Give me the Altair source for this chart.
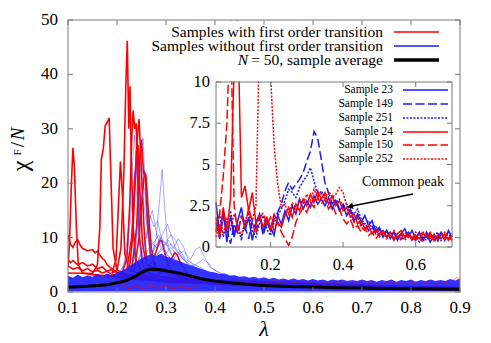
import altair as alt
import pandas as pd

SERIF = "'Liberation Serif', 'Times New Roman', Times, 'DejaVu Serif', serif"
RED = "#ff0000"
BLUE = "#1a1aff"
FAINT = "#3c3cff"
FRAME = "#7a7a7a"

W, H = 392, 272
IN_L, IN_R, IN_T, IN_B = 148, 384, 62, 227

X_MAIN = [0.1, 0.9]
Y_MAIN = [0, 50]
X_IN = [0.05, 0.7]
Y_IN = [0, 10]

MAIN_XTICKS = [0.1, 0.2, 0.3, 0.4, 0.5, 0.6, 0.7, 0.8, 0.9]
MAIN_XLABELS = ["0.1", "0.2", "0.3", "0.4", "0.5", "0.6", "0.7", "0.8", "0.9"]
MAIN_YTICKS = [0, 10, 20, 30, 40, 50]
MAIN_YLABELS = ["0", "10", "20", "30", "40", "50"]
IN_XTICKS = [0.2, 0.4, 0.6]
IN_XLABELS = ["0.2", "0.4", "0.6"]
IN_YTICKS = [0, 2.5, 5, 7.5, 10]
IN_YLABELS = ["0", "2.5", "5", "7.5", "10"]

# ---------------- main panel data ----------------
AVERAGE = [(0.10, 0.85), (0.12, 0.95), (0.14, 1.05), (0.16, 1.2), (0.18, 1.35), (0.20, 1.7),
           (0.22, 2.1), (0.24, 3.0), (0.25, 3.6), (0.26, 4.0), (0.27, 4.2), (0.28, 4.2),
           (0.29, 4.1), (0.30, 3.9), (0.32, 3.6), (0.34, 3.2), (0.36, 2.7), (0.38, 2.3),
           (0.40, 2.0), (0.43, 1.7), (0.46, 1.45), (0.50, 1.2), (0.55, 1.0), (0.60, 0.9),
           (0.65, 0.8), (0.70, 0.72), (0.75, 0.65), (0.80, 0.6), (0.85, 0.55), (0.90, 0.5)]

BAND_LAMBDA = [round(0.10 + 0.01 * i, 2) for i in range(81)]
BAND_TOP = [3.0, 2.6, 3.2, 2.7, 3.1, 2.8, 3.3, 2.9, 3.4, 3.1,
            3.6, 3.9, 4.4, 5.0, 5.6, 6.2, 6.6, 7.0, 6.6, 7.1,
            6.5, 6.3, 5.9, 5.6, 5.2, 4.9, 4.6, 4.3, 4.0, 3.7,
            3.6, 3.3, 3.4, 3.0, 3.1, 2.8, 2.9, 2.6, 2.8, 2.5,
            2.7, 2.4, 2.6, 2.3, 2.5, 2.2, 2.5, 2.2, 2.4, 2.1,
            2.4, 2.1, 2.3, 2.0, 2.3, 2.1, 2.3, 2.0, 2.2, 2.0,
            2.3, 2.0, 2.2, 1.9, 2.2, 2.0, 2.3, 1.9, 2.2, 2.0,
            2.3, 1.9, 2.2, 2.0, 2.3, 2.0, 2.2, 2.0, 2.4, 2.1,
            2.5]
BAND_BOTTOM = 0.15

RED_A = [(0.100, 4.5), (0.103, 9), (0.107, 20), (0.110, 26.5), (0.113, 23), (0.117, 12), (0.121, 5),
         (0.13, 3.5), (0.15, 3.2), (0.18, 3), (0.22, 2.5), (0.3, 2), (0.5, 1.2), (0.9, 0.8)]
RED_B = [(0.100, 10.5), (0.105, 8.8), (0.110, 8.2), (0.115, 9.2), (0.120, 9.6), (0.125, 8.6), (0.130, 8.0),
         (0.140, 7.6), (0.150, 7.8), (0.155, 7.2), (0.160, 7.5), (0.165, 6.8), (0.170, 6.2), (0.175, 5.8),
         (0.180, 5.0), (0.190, 4.2), (0.200, 3.6), (0.220, 3.0), (0.3, 2.2), (0.5, 1.2), (0.9, 0.8)]
RED_C = [(0.10, 6.0), (0.105, 5.4), (0.11, 5.8), (0.12, 5.0), (0.13, 5.4), (0.14, 4.8), (0.15, 5.1),
         (0.16, 4.3), (0.17, 4.6), (0.18, 3.8), (0.19, 4.2), (0.20, 3.5), (0.22, 3.0), (0.3, 2.0),
         (0.5, 1.0), (0.9, 0.7)]
RED_D = [(0.10, 4.8), (0.11, 4.2), (0.12, 4.5), (0.13, 3.9), (0.14, 4.3), (0.15, 3.7), (0.16, 4.0),
         (0.17, 3.5), (0.18, 3.8), (0.19, 3.2), (0.20, 3.0), (0.3, 1.8), (0.9, 0.6)]
RED_E = [(0.10, 3.5), (0.15, 3.4), (0.160, 5), (0.165, 12), (0.168, 24.4), (0.172, 26.3), (0.176, 30.6),
         (0.180, 31.2), (0.184, 32), (0.188, 20), (0.192, 8), (0.20, 4), (0.22, 3.2), (0.3, 2.2), (0.9, 0.7)]
RED_F = [(0.19, 3.5), (0.200, 4), (0.208, 8), (0.214, 22), (0.218, 38), (0.221, 46.2), (0.224, 30),
         (0.2265, 37.8), (0.229, 25), (0.233, 12), (0.238, 6), (0.25, 4), (0.3, 2.5), (0.9, 0.7)]
RED_G = [(0.21, 3.5), (0.22, 6), (0.226, 16), (0.230, 28), (0.233, 33.4), (0.236, 30), (0.239, 31),
         (0.242, 22), (0.246, 10), (0.252, 5), (0.27, 3), (0.4, 2)]
RED_H = [(0.225, 4), (0.232, 10), (0.238, 22), (0.242, 29), (0.245, 31.8), (0.248, 26), (0.251, 20),
         (0.255, 12), (0.26, 6), (0.27, 4), (0.4, 2)]
RED_I = [(0.23, 4), (0.24, 12), (0.246, 24), (0.250, 28), (0.254, 22), (0.258, 21), (0.262, 14),
         (0.268, 7), (0.28, 4), (0.4, 2)]
RED_J = [(0.235, 4), (0.245, 10), (0.252, 18), (0.256, 22), (0.259, 21.5), (0.263, 16), (0.27, 8),
         (0.28, 4), (0.4, 2)]
RED_K = [(0.19, 3.5), (0.198, 6), (0.203, 16), (0.207, 24), (0.211, 18), (0.216, 7), (0.225, 4), (0.3, 2)]
RED_L = [(0.22, 4), (0.23, 10), (0.236, 20), (0.240, 26), (0.243, 27), (0.247, 18), (0.252, 9),
         (0.26, 5), (0.35, 2)]
RED_M = [(0.25, 3.0), (0.26, 3.5), (0.27, 5), (0.28, 7.5), (0.287, 9.5), (0.292, 9.3), (0.298, 7),
         (0.305, 5), (0.315, 3.5), (0.35, 2.5)]
RED_N = [(0.28, 3.0), (0.29, 3.5), (0.30, 4.5), (0.31, 6), (0.318, 7.2), (0.323, 6.8), (0.33, 5.2),
         (0.335, 4.5), (0.345, 3.2), (0.36, 2.5), (0.4, 2)]
RED_LOW = [(0.21, 1.3), (0.225, 0.6), (0.24, 1.2), (0.255, 0.5), (0.27, 1.4), (0.285, 0.7), (0.30, 1.3),
           (0.315, 0.5), (0.33, 1.2), (0.345, 0.6), (0.36, 1.0)]
RED_TAIL = [(0.45, 1.5), (0.47, 2.0), (0.49, 1.4), (0.52, 2.1), (0.55, 1.5), (0.58, 2.0), (0.61, 1.4),
            (0.64, 1.9), (0.67, 1.5), (0.70, 2.1), (0.73, 1.4), (0.76, 1.9), (0.79, 1.5), (0.82, 2.0),
            (0.85, 1.4), (0.88, 1.9), (0.895, 2.7), (0.90, 1.6)]

BLUE_A = [(0.20, 3), (0.215, 5), (0.225, 13), (0.232, 24), (0.236, 28.8), (0.240, 22), (0.245, 11),
          (0.252, 6), (0.27, 5), (0.3, 4), (0.35, 3), (0.45, 2)]
BLUE_B = [(0.22, 3.5), (0.235, 6), (0.243, 14), (0.249, 24), (0.253, 28.3), (0.257, 21), (0.263, 10),
          (0.272, 6), (0.29, 5), (0.33, 3.5), (0.4, 2.5)]
BLUE_C = [(0.25, 4), (0.27, 6), (0.28, 10), (0.287, 17), (0.292, 22.5), (0.297, 16), (0.303, 9),
          (0.315, 6), (0.33, 4.5), (0.38, 3)]
BLUE_D = [(0.22, 4), (0.235, 7), (0.245, 15), (0.25, 20), (0.256, 19), (0.262, 12), (0.27, 8),
          (0.28, 6), (0.3, 5), (0.35, 3.5)]
BLUE_E = [(0.24, 5), (0.255, 8), (0.265, 13), (0.272, 15), (0.28, 11), (0.29, 8), (0.3, 9),
          (0.31, 7), (0.33, 5), (0.36, 3.5)]
BLUE_F = [(0.25, 5), (0.27, 7), (0.285, 9), (0.295, 11), (0.303, 12.5), (0.312, 10), (0.32, 8),
          (0.335, 6), (0.35, 4.5), (0.38, 3.5)]
BLUE_G = [(0.27, 6), (0.29, 7.5), (0.305, 9.5), (0.315, 8), (0.325, 9.8), (0.335, 8.5), (0.345, 6),
          (0.36, 4.5), (0.4, 3)]
BLUE_H = [(0.30, 5), (0.32, 6.5), (0.335, 7.5), (0.35, 6), (0.36, 7.8), (0.369, 8.3), (0.378, 6.5),
          (0.39, 4.5), (0.42, 3)]
BLUE_I = [(0.33, 4.5), (0.36, 5), (0.375, 6), (0.385, 5.5), (0.395, 4.3), (0.41, 3.5), (0.44, 2.8)]
BLUE_J = [(0.23, 5), (0.24, 9), (0.247, 16), (0.252, 18), (0.258, 14), (0.265, 10), (0.275, 9),
          (0.285, 10.5), (0.295, 8), (0.31, 6)]
BLUE_K = [(0.26, 5), (0.275, 8), (0.29, 10), (0.298, 9), (0.31, 10.5), (0.32, 9.5), (0.33, 7),
          (0.345, 5), (0.37, 3.5)]
BLUE_L = [(0.21, 4), (0.222, 8), (0.23, 16), (0.236, 22), (0.241, 17), (0.246, 9), (0.255, 6), (0.27, 5)]
BLUE_M = [(0.24, 5), (0.26, 10), (0.268, 14), (0.275, 12), (0.283, 13), (0.29, 10), (0.3, 7), (0.32, 5)]
BLUE_N = [(0.25, 4), (0.262, 7.5), (0.272, 9), (0.282, 8), (0.292, 9.5), (0.302, 8.5), (0.312, 8.8),
          (0.322, 7.5), (0.335, 6), (0.35, 5), (0.37, 4)]
BLUE_O = [(0.27, 5), (0.28, 6.5), (0.29, 8), (0.30, 7), (0.31, 8.2), (0.32, 7), (0.33, 7.5),
          (0.34, 6), (0.355, 5.2), (0.37, 4.5), (0.39, 3.5)]

# ---------------- inset data ----------------
INSET_LAMBDA = [round(0.05 + 0.01 * i, 2) for i in range(66)]
S23 = [2.7, 0.8, 2.2, 0.3, 1.9, 0.6, 1.6, 2.4, 1.0, 1.8,
       0.4, 1.5, 2.0, 0.9, 1.7, 1.2, 0.7, 1.9, 1.4, 2.2,
       1.6, 2.5, 2.0, 2.9, 2.3, 2.8, 2.4, 3.1, 2.6, 2.9,
       2.5, 3.0, 2.3, 2.8, 2.2, 2.5, 1.9, 2.3, 1.6, 2.0,
       1.5, 1.9, 1.3, 1.6, 0.9, 1.2, 0.6, 1.0, 0.5, 0.9,
       0.4, 0.8, 1.1, 0.6, 1.0, 0.5, 0.9, 0.4, 0.8, 0.3,
       0.7, 0.5, 0.9, 0.4, 1.0, 0.6]
S149 = [1.5, 0.5, 1.8, 1.0, 0.2, 1.4, 0.8, 1.9, 1.2, 0.5,
        1.6, 1.1, 1.8, 0.7, 1.5, 1.0, 1.7, 2.1, 2.6, 3.4,
        3.9, 3.5, 3.8, 4.1, 4.5, 5.2, 5.8, 7.0, 6.6, 5.3,
        3.9, 3.3, 2.6, 2.9, 2.3, 2.6, 2.0, 2.2, 1.6, 1.8,
        1.3, 1.5, 1.0, 1.3, 0.8, 1.1, 0.7, 1.0, 0.6, 0.9,
        0.5, 0.8, 0.5, 0.9, 0.6, 0.4, 0.8, 0.5, 0.9, 0.4,
        0.7, 0.3, 0.8, 0.5, 0.9, 0.4]
S251 = [0.9, 2.0, 0.6, 1.5, 2.2, 0.9, 1.3, 0.4, 1.6, 2.1,
        1.0, 0.6, 1.4, 1.9, 1.1, 0.7, 1.5, 1.9, 2.3, 2.8,
        3.5, 3.3, 3.0, 3.6, 4.0, 4.3, 4.8, 4.0, 3.1, 3.4,
        3.0, 2.6, 3.1, 2.7, 2.9, 2.4, 2.6, 2.2, 2.0, 2.3,
        1.7, 1.4, 1.6, 1.1, 1.3, 0.8, 1.0, 0.6, 0.9, 0.5,
        0.8, 0.4, 0.7, 0.9, 0.5, 0.7, 0.3, 0.6, 0.4, 0.8,
        0.5, 0.9, 0.4, 0.7, 0.5, 0.8]
S24 = [1.8, 0.6, 2.4, 1.0, 2.9, 11.0, 14.0, 3.0, 3.7, 2.2,
       3.3, 1.4, 1.9, 1.2, 1.8, 1.1, 2.0, 1.5, 1.2, 1.9,
       2.4, 1.8, 2.6, 2.2, 2.9, 2.5, 3.2, 2.7, 3.4, 2.9,
       3.3, 2.6, 3.1, 2.5, 2.8, 2.2, 2.4, 1.8, 2.0, 1.4,
       1.6, 1.1, 1.3, 0.8, 1.1, 0.7, 1.0, 0.6, 0.9, 0.5,
       0.8, 1.0, 0.6, 0.8, 0.4, 0.7, 0.5, 0.8, 0.6, 0.9,
       0.4, 0.7, 0.5, 0.8, 0.4, 0.7]
S150 = [1.0, 2.0, 4.3, 7.5, 14.0, 2.5, 0.8, 1.9, 1.2, 2.4,
        1.5, 0.8, 1.7, 2.1, 1.3, 1.8, 1.0, 1.5, 0.9, 0.5,
        0.1, 0.6, 1.5, 2.0, 2.4, 2.1, 2.7, 2.4, 3.0, 2.6,
        2.9, 2.3, 2.6, 2.0, 2.3, 1.7, 1.4, 1.7, 1.1, 1.3,
        0.9, 1.2, 0.7, 0.9, 0.5, 0.8, 1.0, 0.6, 0.8, 0.4,
        0.7, 0.5, 0.9, 0.6, 0.8, 0.4, 0.7, 0.9, 0.5, 0.7,
        0.3, 0.6, 0.9, 0.5, 0.7, 0.4]
S252 = [0.6, 1.4, 0.8, 1.7, 1.1, 2.0, 1.3, 0.7, 1.5, 2.1,
        1.6, 2.5, 13.0, 16.0, 15.0, 10.5, 6.2, 3.8, 2.4, 2.6,
        2.0, 2.7, 2.3, 2.9, 2.6, 3.2, 2.8, 3.5, 3.0, 3.3,
        2.9, 3.4, 3.0, 3.2, 3.6, 3.3, 2.5, 2.0, 1.5, 1.8,
        1.2, 1.0, 1.3, 0.8, 1.0, 0.6, 0.9, 0.5, 0.7, 1.0,
        0.6, 0.8, 0.4, 0.7, 0.5, 0.9, 0.6, 0.3, 0.7, 0.5,
        0.8, 0.4, 0.6, 0.9, 0.5, 0.7]

MAIN_LEGEND = ["Samples with first order transition", "Samples without first order transition",
               "= 50, sample average"]
INSET_LEGEND = ["Sample 23", "Sample 149", "Sample 251", "Sample 24", "Sample 150", "Sample 252"]
ANNOTATION = "Common peak"

# ---------------- helpers ----------------
XM = alt.Scale(domain=X_MAIN, range=[0, W], nice=False, zero=False)
YM = alt.Scale(domain=Y_MAIN, range=[H, 0], nice=False, zero=False)
XI = alt.Scale(domain=X_IN, range=[IN_L, IN_R], nice=False, zero=False)
YI = alt.Scale(domain=Y_IN, range=[IN_B, IN_T], nice=False, zero=False)


def one():
    return pd.DataFrame({"k": [0]})


def pairs_df(named):
    rows = []
    for name, pts in named.items():
        for lam, val in pts:
            rows.append({"sid": name, "lam": lam, "val": val})
    return pd.DataFrame(rows)


def line_layer(df, sx, sy, **mk):
    return alt.Chart(df).mark_line(clip=True, **mk).encode(
        x=alt.X("lam:Q", scale=sx, axis=None),
        y=alt.Y("val:Q", scale=sy, axis=None),
        detail="sid:N",
    )


def text_at(txt, x, y, size, align="center", style="normal", angle=0, color="black"):
    return alt.Chart(one()).mark_text(
        text=txt, font=SERIF, fontSize=size, fontStyle=style, align=align,
        baseline="middle", angle=angle, color=color,
    ).encode(x=alt.value(x), y=alt.value(y))


def seg(x1, x2, y1, y2, color, width, dash=None):
    kw = dict(color=color, strokeWidth=width)
    if dash:
        kw["strokeDash"] = dash
    return alt.Chart(one()).mark_rule(**kw).encode(
        x=alt.value(x1), x2=alt.value(x2), y=alt.value(y1), y2=alt.value(y2))


layers = []

# red samples (drawn first)
red_df = pairs_df({"a": RED_A, "b": RED_B, "c": RED_C, "d": RED_D, "e": RED_E, "f": RED_F,
                   "g": RED_G, "h": RED_H, "i": RED_I, "j": RED_J, "k": RED_K, "l": RED_L,
                   "m": RED_M, "n": RED_N})
layers.append(line_layer(red_df, XM, YM, color=RED, strokeWidth=1.6))

# dense blue band
band_df = pd.DataFrame({"lam": BAND_LAMBDA, "up": BAND_TOP})
layers.append(alt.Chart(band_df).mark_area(color=BLUE, opacity=0.9, clip=True).encode(
    x=alt.X("lam:Q", scale=XM, axis=None),
    y=alt.Y("up:Q", scale=YM, axis=None),
    y2=alt.datum(BAND_BOTTOM),
))

# faint blue samples
blue_df = pairs_df({"a": BLUE_A, "b": BLUE_B, "c": BLUE_C, "d": BLUE_D, "e": BLUE_E, "f": BLUE_F,
                    "g": BLUE_G, "h": BLUE_H, "i": BLUE_I, "j": BLUE_J, "k": BLUE_K, "l": BLUE_L,
                    "m": BLUE_M, "n": BLUE_N, "o": BLUE_O})
layers.append(line_layer(blue_df, XM, YM, color=FAINT, strokeWidth=0.9, opacity=0.5))

# low red specks over band
layers.append(line_layer(pairs_df({"low": RED_LOW}), XM, YM, color=RED, strokeWidth=1.0, opacity=0.8))
layers.append(line_layer(pairs_df({"tail": RED_TAIL}), XM, YM, color=RED, strokeWidth=0.8, opacity=0.5))

# average
layers.append(line_layer(pairs_df({"avg": AVERAGE}), XM, YM, color="black", strokeWidth=3))

# ---------------- inset ----------------
layers.append(alt.Chart(one()).mark_rect(color="white").encode(
    x=alt.value(IN_L), x2=alt.value(IN_R), y=alt.value(IN_T), y2=alt.value(IN_B)))

DASH_SOLID = [1, 0]
DASH_DASHED = [9, 3.5]
DASH_DOTTED = [2, 1.5]
inset_series = [
    ("Sample 23", S23, BLUE, DASH_SOLID),
    ("Sample 149", S149, BLUE, DASH_DASHED),
    ("Sample 251", S251, BLUE, DASH_DOTTED),
    ("Sample 24", S24, RED, DASH_SOLID),
    ("Sample 150", S150, RED, DASH_DASHED),
    ("Sample 252", S252, RED, DASH_DOTTED),
]
for name, vals, col, dash in inset_series:
    df = pd.DataFrame({"sid": name, "lam": INSET_LAMBDA, "val": vals})
    layers.append(line_layer(df, XI, YI, color=col, strokeWidth=1.5, strokeDash=dash))

# cover for inset spikes above its top edge
layers.append(alt.Chart(one()).mark_rect(color="white").encode(
    x=alt.value(IN_L - 1), x2=alt.value(IN_R + 1), y=alt.value(0.6), y2=alt.value(IN_T - 0.5)))

# inset frame, ticks, labels
layers.append(alt.Chart(one()).mark_rect(filled=False, color=FRAME, strokeWidth=1).encode(
    x=alt.value(IN_L), x2=alt.value(IN_R), y=alt.value(IN_T), y2=alt.value(IN_B)))
ixt = pd.DataFrame({"t": IN_XTICKS, "lab": IN_XLABELS})
iyt = pd.DataFrame({"t": IN_YTICKS, "lab": IN_YLABELS})
layers.append(alt.Chart(ixt).mark_rule(color=FRAME).encode(
    x=alt.X("t:Q", scale=XI, axis=None), y=alt.value(IN_B), y2=alt.value(IN_B - 5)))
layers.append(alt.Chart(ixt).mark_rule(color=FRAME).encode(
    x=alt.X("t:Q", scale=XI, axis=None), y=alt.value(IN_T), y2=alt.value(IN_T + 5)))
layers.append(alt.Chart(iyt).mark_rule(color=FRAME).encode(
    y=alt.Y("t:Q", scale=YI, axis=None), x=alt.value(IN_L), x2=alt.value(IN_L + 5)))
layers.append(alt.Chart(iyt).mark_rule(color=FRAME).encode(
    y=alt.Y("t:Q", scale=YI, axis=None), x=alt.value(IN_R), x2=alt.value(IN_R - 5)))
layers.append(alt.Chart(ixt).mark_text(font=SERIF, fontSize=16.5, baseline="middle").encode(
    x=alt.X("t:Q", scale=XI, axis=None), y=alt.value(IN_B + 18), text="lab:N"))
layers.append(alt.Chart(iyt).mark_text(font=SERIF, fontSize=16.5, baseline="middle", align="right").encode(
    y=alt.Y("t:Q", scale=YI, axis=None), x=alt.value(IN_L - 6), text="lab:N"))

# inset legend
IN_ROWS = [70, 84, 98, 112, 125, 139]
for (name, _, col, dash), yy in zip(inset_series, IN_ROWS):
    layers.append(text_at(name, 325, yy, 11.5, align="right"))
    layers.append(seg(335, 380, yy, yy, col, 1.5, dash if dash != DASH_SOLID else None))

# annotation
layers.append(text_at(ANNOTATION, 335, 162, 14))
layers.append(seg(345, 284, 174, 186, "black", 1.5))
layers.append(alt.Chart(one()).mark_point(shape="triangle", filled=True, size=45, angle=259,
                                          color="black", opacity=1).encode(
    x=alt.value(283), y=alt.value(186.2)))

# ---------------- main frame, ticks, labels ----------------
mxt = pd.DataFrame({"t": MAIN_XTICKS, "lab": MAIN_XLABELS})
myt = pd.DataFrame({"t": MAIN_YTICKS, "lab": MAIN_YLABELS})
layers.append(alt.Chart(mxt).mark_rule(color=FRAME).encode(
    x=alt.X("t:Q", scale=XM, axis=None), y=alt.value(H), y2=alt.value(H - 5)))
layers.append(alt.Chart(mxt).mark_rule(color=FRAME).encode(
    x=alt.X("t:Q", scale=XM, axis=None), y=alt.value(0), y2=alt.value(5)))
layers.append(alt.Chart(myt).mark_rule(color=FRAME).encode(
    y=alt.Y("t:Q", scale=YM, axis=None), x=alt.value(0), x2=alt.value(5)))
layers.append(alt.Chart(myt).mark_rule(color=FRAME).encode(
    y=alt.Y("t:Q", scale=YM, axis=None), x=alt.value(W), x2=alt.value(W - 5)))
layers.append(alt.Chart(mxt).mark_text(font=SERIF, fontSize=17, baseline="middle").encode(
    x=alt.X("t:Q", scale=XM, axis=None), y=alt.value(H + 16), text="lab:N"))
layers.append(alt.Chart(myt).mark_text(font=SERIF, fontSize=17, baseline="middle", align="right").encode(
    y=alt.Y("t:Q", scale=YM, axis=None), x=alt.value(-10), text="lab:N"))
layers.append(alt.Chart(one()).mark_rect(filled=False, color=FRAME, strokeWidth=1).encode(
    x=alt.value(0), x2=alt.value(W), y=alt.value(0), y2=alt.value(H)))

# axis titles
layers.append(text_at("λ", 196, H + 37, 22, style="italic"))
layers.append(text_at("χ", -47, 146, 24, angle=270))
layers.append(text_at("F", -50, 132.5, 11, angle=270))
layers.append(text_at("/", -50, 124.5, 19, angle=270))
layers.append(text_at("N", -50, 114, 19, style="italic", angle=270))

# main legend
MAIN_ROWS = [12, 26, 40]
for lab, yy, col, wdt in zip(MAIN_LEGEND, MAIN_ROWS, [RED, BLUE, "black"], [1.5, 1.5, 3.5]):
    layers.append(text_at(lab, 315, yy, 15.5, align="right"))
    layers.append(seg(326, 371, yy, yy, col, wdt))
layers.append(text_at("N", 180, MAIN_ROWS[2], 15.5, align="right", style="italic"))

chart = alt.layer(*layers).resolve_scale(x="independent", y="independent").properties(
    width=W, height=H, autosize="none",
    padding={"left": 60, "top": 12, "right": 20, "bottom": 50},
).configure_view(strokeWidth=0)

chart.save("out.html", embed_options={"renderer": "svg", "actions": False})
